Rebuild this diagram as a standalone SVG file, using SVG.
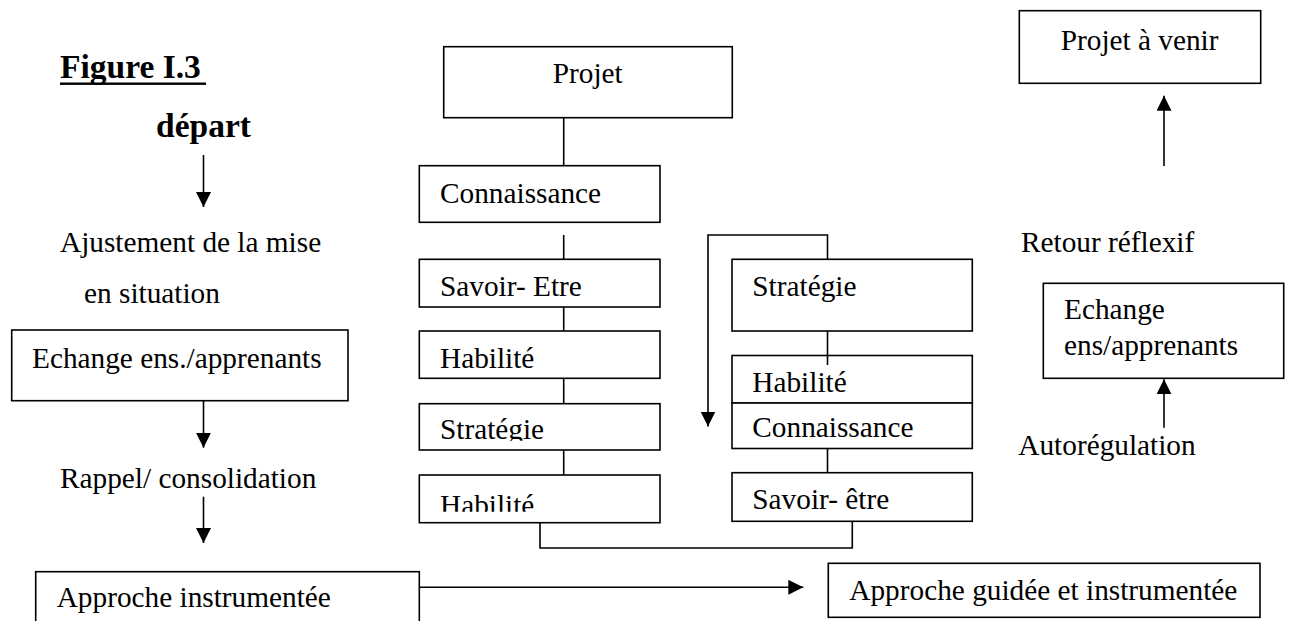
<svg xmlns="http://www.w3.org/2000/svg" width="1290" height="621" viewBox="0 0 1290 621">
<style>
text{font-family:"Liberation Serif","Times New Roman",serif;font-size:29.3px;fill:#000}
.b{font-weight:bold;font-size:33.5px}
rect{fill:#fff;stroke:#000;stroke-width:1.6}
.c path,.c line{fill:none;stroke:#000;stroke-width:1.6}
</style>
<defs>
<marker id="ah" markerUnits="userSpaceOnUse" markerWidth="16" markerHeight="16" refX="15" refY="7.5" orient="auto">
<path d="M0,0 L15,7.5 L0,15 z" fill="#000"/>
</marker>
<clipPath id="clipS"><rect x="419" y="404" width="241" height="36.8"/></clipPath>
<clipPath id="clipH"><rect x="419" y="475" width="241" height="36.8"/></clipPath>
</defs>
<g id="title">
<text class="b" x="60" y="78">Figure I.3</text>
<rect x="60" y="82.5" width="146" height="2.4" style="fill:#000;stroke:none"/>
</g>
<g id="depart"><text class="b" x="156" y="137">départ</text></g>
<g id="ajustement"><text x="60" y="252">Ajustement de la mise</text><text x="84" y="303">en situation</text></g>
<g id="echange1"><rect x="11.7" y="330" width="336.3" height="70.7"/><text x="32" y="367.7">Echange ens./apprenants</text></g>
<g id="rappel"><text x="60" y="488">Rappel/ consolidation</text></g>
<g id="approche1"><rect x="35.7" y="571.7" width="383.6" height="60"/><text x="56.7" y="606.7">Approche instrumentée</text></g>
<g id="approche2"><rect x="828.3" y="563.3" width="431.7" height="54"/><text x="849.3" y="600">Approche guidée et instrumentée</text></g>
<g id="projet"><rect x="443.7" y="46.7" width="288.6" height="71"/><text x="552.7" y="83.3">Projet</text></g>
<g id="connaissance1"><rect x="419.3" y="165.7" width="240.7" height="56.6"/><text x="440" y="203.3">Connaissance</text></g>
<g id="savoiretre1"><rect x="419.3" y="259.3" width="240.7" height="47.7"/><text x="440" y="295.7">Savoir- Etre</text></g>
<g id="habilite1"><rect x="419.3" y="331" width="240.7" height="47.3"/><text x="440" y="367.7">Habilité</text></g>
<g id="strategie1"><rect x="419.3" y="403.7" width="240.7" height="46.3"/><text x="440" y="439.3" clip-path="url(#clipS)">Stratégie</text></g>
<g id="habilite2"><rect x="419.3" y="475" width="240.7" height="47.7"/><text x="440" y="514.5" clip-path="url(#clipH)">Habilité</text></g>
<g id="strategie2"><rect x="732" y="259.3" width="240.3" height="71.7"/><text x="752.3" y="295.7">Stratégie</text></g>
<g id="habilite3"><rect x="732" y="355.5" width="240.3" height="47.5"/><text x="752.3" y="391.7">Habilité</text></g>
<g id="connaissance2"><rect x="732" y="403" width="240.3" height="45.5"/><text x="752.3" y="436.7">Connaissance</text></g>
<g id="savoiretre2"><rect x="732" y="472.7" width="240.3" height="48.6"/><text x="752.3" y="509.3">Savoir- être</text></g>
<g id="projetavenir"><rect x="1019.3" y="10.7" width="241.4" height="72.6"/><text x="1060.7" y="50">Projet à venir</text></g>
<g id="retour"><text x="1021" y="251.7">Retour réflexif</text></g>
<g id="echange2"><rect x="1043.3" y="283.3" width="240.4" height="95"/><text x="1064" y="319.3">Echange</text><text x="1064" y="355">ens/apprenants</text></g>
<g id="autoregulation"><text x="1018.3" y="455">Autorégulation</text></g>
<g id="connectors" class="c">
<line x1="203.5" y1="155" x2="203.5" y2="207" marker-end="url(#ah)"/>
<line x1="203.5" y1="400.7" x2="203.5" y2="447.7" marker-end="url(#ah)"/>
<line x1="203.5" y1="496.7" x2="203.5" y2="543" marker-end="url(#ah)"/>
<line x1="419.3" y1="587.3" x2="803.3" y2="587.3" marker-end="url(#ah)"/>
<line x1="563.7" y1="117.7" x2="563.7" y2="165.7"/>
<line x1="563.7" y1="235" x2="563.7" y2="259.3"/>
<line x1="563.7" y1="307" x2="563.7" y2="331"/>
<line x1="563.7" y1="378.3" x2="563.7" y2="403.7"/>
<line x1="563.7" y1="450" x2="563.7" y2="475"/>
<path d="M540 522.7 V548 H852.3 V521.3"/>
<path d="M827.5 259.3 V235 H708 V426.5" marker-end="url(#ah)"/>
<line x1="827.5" y1="331" x2="827.5" y2="365"/>
<line x1="827.5" y1="448.5" x2="827.5" y2="472.7"/>
<line x1="1164" y1="166" x2="1164" y2="95.7" marker-end="url(#ah)"/>
<line x1="1164" y1="427.7" x2="1164" y2="379.3" marker-end="url(#ah)"/>
</g>
</svg>
